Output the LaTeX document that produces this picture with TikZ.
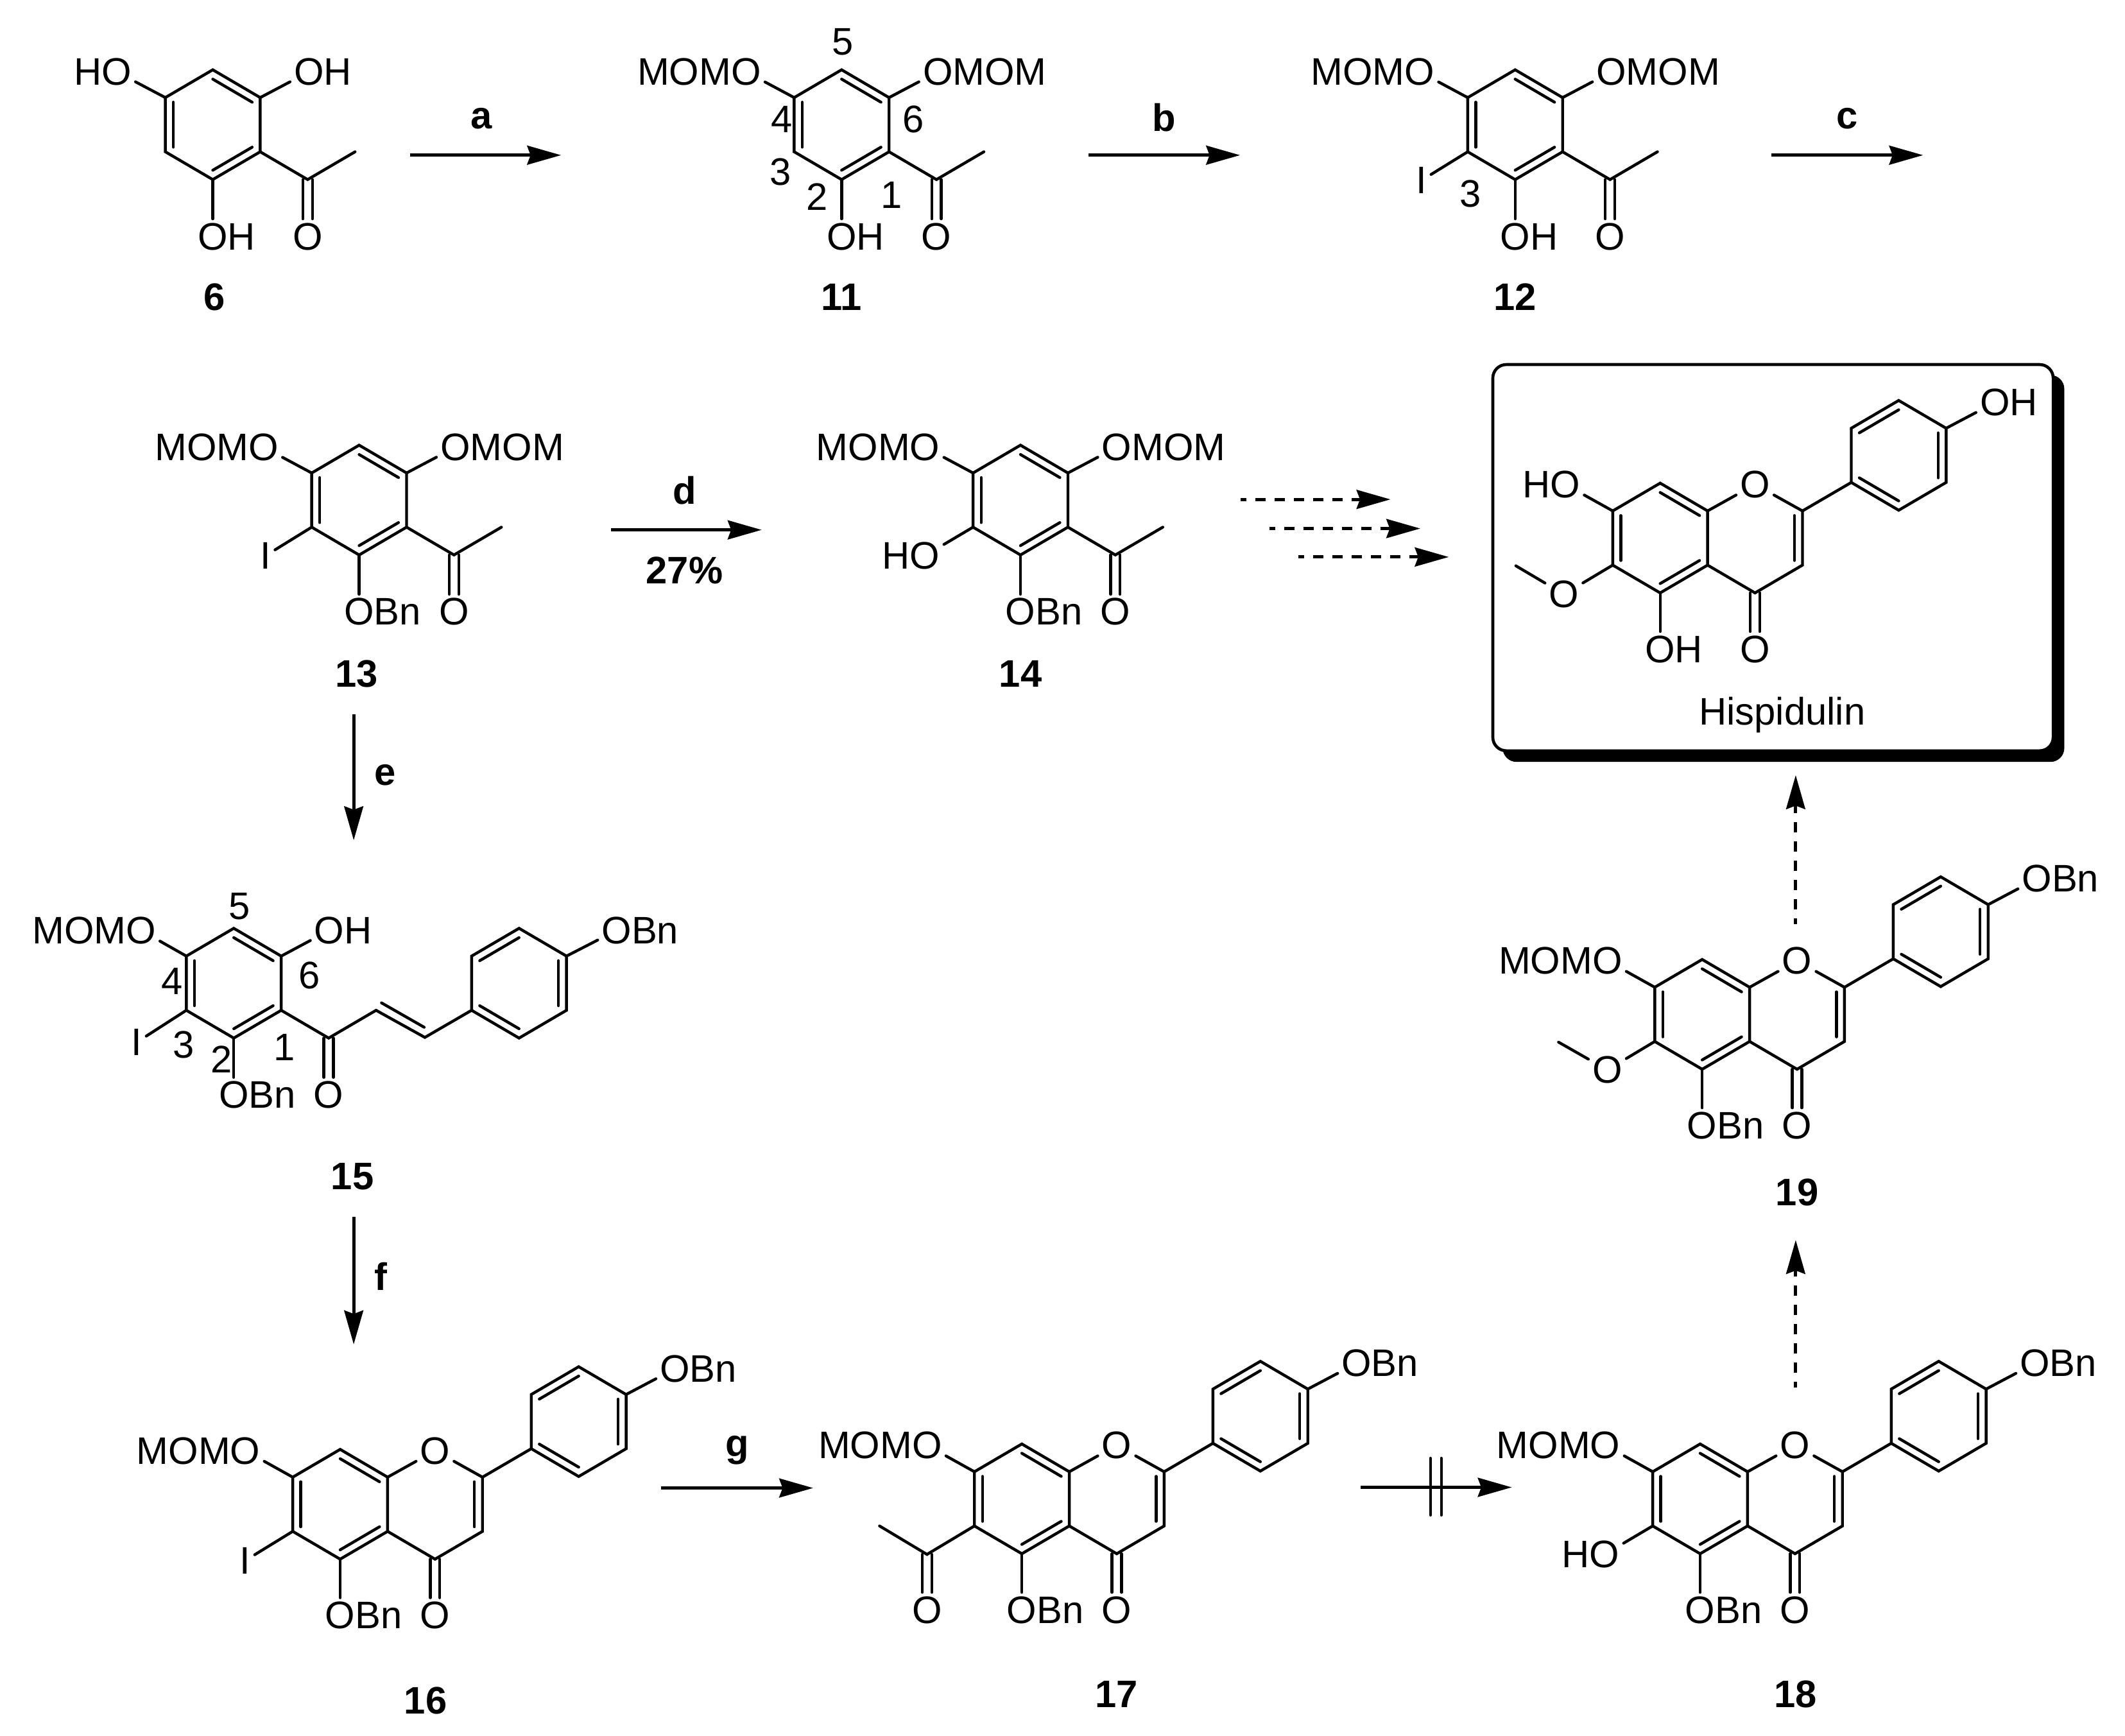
\documentclass[tikz,border=0pt]{standalone}
\usepackage{fontspec}
\setmainfont{Liberation Sans}
\usetikzlibrary{arrows.meta}
\usetikzlibrary{calc}

\newcommand{\chemfont}{\fontsize{28.3bp}{28.3bp}\selectfont}
\tikzset{
  bond/.style={line width=2.1bp,line cap=round},
  atom/.style={inner sep=3bp,outer sep=0pt},
  tail/.style={inner sep=0pt,outer sep=0pt},
  cmpd/.style={inner sep=0pt,font=\chemfont\bfseries},
  locant/.style={inner sep=0pt},
  rxn/.style={->,line width=2.3bp},
  rxndash/.style={rxn,dash pattern=on 7.6bp off 6.6bp,dash phase=3.2bp},
  dbl_l/.style={transform canvas={xshift=-3.5bp}},
  dbl_r/.style={transform canvas={xshift=3.5bp}},
}

% atom with the rest of its group on one side
\newcommand{\atomL}[4]{\node[atom] (#1) at (#2,#3) {O};
  \node[tail,anchor=base east] (#1_tail) at ([xshift=3bp]#1.base west) {#4};}
\newcommand{\atomR}[4]{\node[atom] (#1) at (#2,#3) {O};
  \node[tail,anchor=base west] (#1_tail) at ([xshift=-3bp]#1.base east) {#4};}

\newcommand{\ringpts}[3]{\begin{scope}[shift={(#2,#3)}]
  \coordinate (#1_c) at (0,0);
  \coordinate (#1_t) at (0,-40.5);
  \coordinate (#1_ur) at (35,-20);
  \coordinate (#1_lr) at (35,20);
  \coordinate (#1_b) at (0,40.5);
  \coordinate (#1_ll) at (-35,20);
  \coordinate (#1_ul) at (-35,-20);
  \end{scope}
  \draw[bond] (#1_t) -- (#1_ur) -- (#1_lr) -- (#1_b) -- (#1_ll) -- (#1_ul) -- cycle;}
\newcommand{\inner}[3]{\draw[bond] ($(#1)!.17!(#3)$) -- ($(#2)!.17!(#3)$);}
\newcommand{\ringa}[3]{\ringpts{#1}{#2}{#3}
  \inner{#1_t}{#1_ur}{#1_c}
  \inner{#1_lr}{#1_b}{#1_c}
  \inner{#1_ll}{#1_ul}{#1_c}}
\newcommand{\ringb}[3]{\ringpts{#1}{#2}{#3}
  \inner{#1_ul}{#1_t}{#1_c}
  \inner{#1_ur}{#1_lr}{#1_c}
  \inner{#1_b}{#1_ll}{#1_c}}

% ring with the acetyl group
\newcommand{\aceto}[3]{\ringa{#1}{#2}{#3}
  \begin{scope}[shift={(#2,#3)}]
  \coordinate (#1_co) at (70,40.5);
  \coordinate (#1_me) at (105,20);
  \node[atom] (#1_ox) at (70,82.5) {O};
  \end{scope}
  \draw[bond] (#1_lr) -- (#1_co) -- (#1_me);
  \draw[bond,dbl_l] (#1_co) -- (#1_ox);
  \draw[bond,dbl_r] (#1_co) -- (#1_ox);}

% prefix, x, y, then what follows O at C7, C5 and C4'
\newcommand{\flavone}[6]{\ringa{#1}{#2}{#3}
  \begin{scope}[shift={(#2,#3)}]
  \node[atom] (#1_o1) at (70,-39.5) {O};
  \coordinate (#1_py) at (70,0);
  \coordinate (#1_c2) at (105,-20);
  \coordinate (#1_c3) at (105,20);
  \coordinate (#1_c4) at (70,40.5);
  \node[atom] (#1_ox) at (70,82) {O};
  \atomL{#1_o7}{-70}{-39.5}{#4}
  \atomR{#1_o5}{0}{82}{#5}
  \ringb{#1p}{176}{-61}
  \atomR{#1_o4p}{247}{-100}{#6}
  \end{scope}
  \draw[bond] (#1_ur) -- (#1_o1) -- (#1_c2) -- (#1_c3) -- (#1_c4) -- (#1_lr);
  \inner{#1_c2}{#1_c3}{#1_py}
  \draw[bond,dbl_l] (#1_c4) -- (#1_ox);
  \draw[bond,dbl_r] (#1_c4) -- (#1_ox);
  \draw[bond] (#1_c2) -- (#1p_ll);
  \draw[bond] (#1_ul) -- (#1_o7);
  \draw[bond] (#1_b) -- (#1_o5);
  \draw[bond] (#1p_ur) -- (#1_o4p);}

\begin{document}
\begin{tikzpicture}[x=1bp,y=-1bp,>={Stealth[length=25bp,width=14bp,inset=2.5bp]},every node/.style={font=\chemfont}]
\useasboundingbox (0,0) rectangle (1568,1281);
%% top row
\aceto{m6}{157}{92}
\atomL{m6_o4}{86}{53}{H}
\atomR{m6_o6}{228}{53}{H}
\atomR{m6_o2}{157}{174.5}{H}
\draw[bond] (m6_ul) -- (m6_o4);
\draw[bond] (m6_ur) -- (m6_o6);
\draw[bond] (m6_b) -- (m6_o2);
\node[cmpd] (lbl_6) at (158,219) {6};
%
\aceto{m11}{621}{92}
\atomL{m11_o4}{550.5}{53}{MOM}
\atomR{m11_o6}{692}{53}{MOM}
\atomR{m11_o2}{621}{174.5}{H}
\draw[bond] (m11_ul) -- (m11_o4);
\draw[bond] (m11_ur) -- (m11_o6);
\draw[bond] (m11_b) -- (m11_o2);
\node[locant] (m11_n5) at (622,31) {5};
\node[locant] (m11_n4) at (577,88) {4};
\node[locant] (m11_n6) at (674,88) {6};
\node[locant] (m11_n3) at (576,127) {3};
\node[locant] (m11_n2) at (603,145) {2};
\node[locant] (m11_n1) at (658,144) {1};
\node[cmpd] (lbl_11) at (621,219) {11};
%
\aceto{m12}{1118}{92}
\atomL{m12_o4}{1047.5}{53}{MOM}
\atomR{m12_o6}{1189}{53}{MOM}
\atomR{m12_o2}{1118}{174.5}{H}
\node[atom] (m12_i) at (1049,133) {I};
\draw[bond] (m12_ul) -- (m12_o4);
\draw[bond] (m12_ur) -- (m12_o6);
\draw[bond] (m12_b) -- (m12_o2);
\draw[bond] (m12_ll) -- (m12_i);
\node[locant] (m12_n3) at (1085,143) {3};
\node[cmpd] (lbl_12) at (1118,219) {12};
%% second row
\aceto{m13}{265}{369}
\atomL{m13_o4}{194.5}{330}{MOM}
\atomR{m13_o6}{336}{330}{MOM}
\atomR{m13_o2}{265}{451.5}{Bn}
\node[atom] (m13_i) at (196,410) {I};
\draw[bond] (m13_ul) -- (m13_o4);
\draw[bond] (m13_ur) -- (m13_o6);
\draw[bond] (m13_b) -- (m13_o2);
\draw[bond] (m13_ll) -- (m13_i);
\node[cmpd] (lbl_13) at (263,497) {13};
%
\aceto{m14}{753}{369}
\atomL{m14_o4}{682.5}{330}{MOM}
\atomR{m14_o6}{824}{330}{MOM}
\atomR{m14_o2}{753}{451.5}{Bn}
\atomL{m14_o3}{682.5}{410}{H}
\draw[bond] (m14_ul) -- (m14_o4);
\draw[bond] (m14_ur) -- (m14_o6);
\draw[bond] (m14_b) -- (m14_o2);
\draw[bond] (m14_ll) -- (m14_o3);
\node[cmpd] (lbl_14) at (753,497) {14};
%% hispidulin box
\draw[fill=black,rounded corners=10bp] (1109,277) rectangle (1523,562);
\draw[fill=white,line width=2.2bp,rounded corners=10bp] (1101.5,269) rectangle (1515,554);
\flavone{hisp}{1225}{397}{H}{H}{H}
\node[atom] (hisp_o6) at (1154,438.5) {O};
\coordinate (hisp_me) at (1118.5,417.5);
\draw[bond] (hisp_ll) -- (hisp_o6) -- (hisp_me);
\node[locant] (hisp_name) at (1315,527.5) {Hispidulin};
%% chalcone
\aceto{m15}{172.5}{725.5}
\coordinate (m15_v) at (313.5,765.5);
\ringb{m15p}{383}{725.5}
\atomL{m15_o4}{104}{686.5}{MOM}
\atomR{m15_o6}{243}{686.5}{H}
\atomR{m15_o2}{172.5}{808}{Bn}
\atomR{m15_o4p}{455}{686.5}{Bn}
\node[atom] (m15_i) at (101,769) {I};
\coordinate (m15_d1) at (281.5,740);
\coordinate (m15_d2) at (313,758);
\draw[bond] (m15_me) -- (m15_v) -- (m15p_ll);
\draw[bond] (m15_d1) -- (m15_d2);
\draw[bond] (m15_ul) -- (m15_o4);
\draw[bond] (m15_ur) -- (m15_o6);
\draw[bond] (m15_b) -- (m15_o2);
\draw[bond] (m15_ll) -- (m15_i);
\draw[bond] (m15p_ur) -- (m15_o4p);
\node[locant] (m15_n5) at (176.5,669) {5};
\node[locant] (m15_n4) at (127,724) {4};
\node[locant] (m15_n6) at (228.5,720) {6};
\node[locant] (m15_n3) at (135.5,771) {3};
\node[locant] (m15_n2) at (163.5,781.5) {2};
\node[locant] (m15_n1) at (210,773) {1};
\node[cmpd] (lbl_15) at (260,868) {15};
%% flavones
\flavone{m16}{251}{1110}{MOM}{Bn}{Bn}
\node[atom] (m16_i) at (181,1151.5) {I};
\draw[bond] (m16_ll) -- (m16_i);
\node[cmpd] (lbl_16) at (314,1255) {16};
%
\flavone{m17}{754}{1106}{MOM}{Bn}{Bn}
\coordinate (m17_co) at (684,1147);
\coordinate (m17_me) at (649,1126);
\node[atom] (m17_ox2) at (684,1188) {O};
\draw[bond] (m17_ll) -- (m17_co) -- (m17_me);
\draw[bond,dbl_l] (m17_co) -- (m17_ox2);
\draw[bond,dbl_r] (m17_co) -- (m17_ox2);
\node[cmpd] (lbl_17) at (824,1250) {17};
%
\flavone{m18}{1254.5}{1106}{MOM}{Bn}{Bn}
\atomL{m18_o6}{1184}{1147}{H}
\draw[bond] (m18_ll) -- (m18_o6);
\node[cmpd] (lbl_18) at (1325,1250) {18};
%
\flavone{m19}{1256}{748.5}{MOM}{Bn}{Bn}
\node[atom] (m19_o6) at (1186,789.5) {O};
\coordinate (m19_me) at (1150,769);
\draw[bond] (m19_ll) -- (m19_o6) -- (m19_me);
\node[cmpd] (lbl_19) at (1326,880) {19};
%% reaction arrows
\coordinate (ar_a0) at (302.5,114.5);
\coordinate (ar_a1) at (414,114.5);
\coordinate (ar_b0) at (803,114.5);
\coordinate (ar_b1) at (915,114.5);
\coordinate (ar_c0) at (1307,114.5);
\coordinate (ar_c1) at (1419,114.5);
\coordinate (ar_d0) at (451,391);
\coordinate (ar_d1) at (562,391);
\coordinate (ar_e0) at (261,527);
\coordinate (ar_e1) at (261,620);
\coordinate (ar_f0) at (261,898);
\coordinate (ar_f1) at (261,992);
\coordinate (ar_g0) at (488,1098);
\coordinate (ar_g1) at (600,1098);
\coordinate (ar_x0) at (1004,1097.5);
\coordinate (ar_x1) at (1115.5,1097.5);
\draw[rxn] (ar_a0) -- (ar_a1);
\draw[rxn] (ar_b0) -- (ar_b1);
\draw[rxn] (ar_c0) -- (ar_c1);
\draw[rxn] (ar_d0) -- (ar_d1);
\draw[rxn] (ar_e0) -- (ar_e1);
\draw[rxn] (ar_f0) -- (ar_f1);
\draw[rxn] (ar_g0) -- (ar_g1);
\draw[rxn] (ar_x0) -- (ar_x1);
\draw[bond] (1055.5,1076) -- (1055.5,1118);
\draw[bond] (1063.5,1076) -- (1063.5,1118);
%
\coordinate (ar_p0) at (915.5,368.5);
\coordinate (ar_p1) at (1026,368.5);
\coordinate (ar_q0) at (936.5,390);
\coordinate (ar_q1) at (1048,390);
\coordinate (ar_r0) at (958,411);
\coordinate (ar_r1) at (1069,411);
\coordinate (ar_s0) at (1325,682);
\coordinate (ar_s1) at (1325,572);
\coordinate (ar_t0) at (1325,1024);
\coordinate (ar_t1) at (1325,915);
\draw[rxndash] (ar_p0) -- (ar_p1);
\draw[rxndash] (ar_q0) -- (ar_q1);
\draw[rxndash] (ar_r0) -- (ar_r1);
\draw[rxndash] (ar_s0) -- (ar_s1);
\draw[rxndash] (ar_t0) -- (ar_t1);
%% conditions
\node[cmpd] (cond_a) at (355,87.5) {a};
\node[cmpd] (cond_b) at (859,86.5) {b};
\node[cmpd] (cond_c) at (1363,87.5) {c};
\node[cmpd] (cond_d) at (505,362) {d};
\node[cmpd] (cond_dy) at (505,421) {27\%};
\node[cmpd] (cond_e) at (284,572) {e};
\node[cmpd] (cond_f) at (281,942) {f};
\node[cmpd] (cond_g) at (544,1070) {g};
%
\end{tikzpicture}
\end{document}
